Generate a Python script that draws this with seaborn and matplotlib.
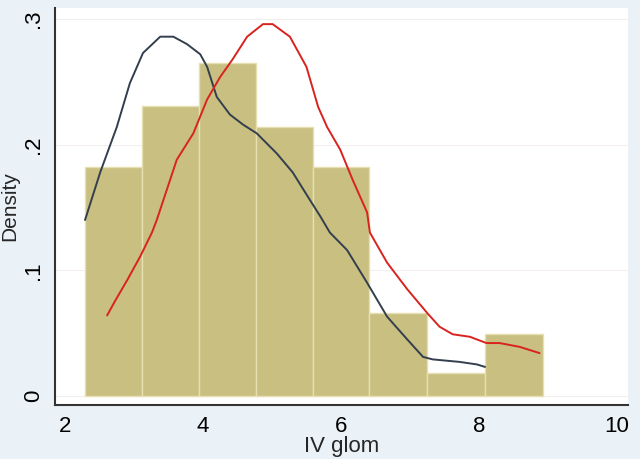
import matplotlib
matplotlib.use("Agg")
import matplotlib.pyplot as plt
import numpy as np
import pandas as pd
import seaborn as sns

# histogram bins (IV glom) and densities
bin_edges = [2.29, 3.12, 3.94, 4.77, 5.59, 6.41, 7.25, 8.09, 8.93]
bar_density = [0.182, 0.231, 0.265, 0.214, 0.182, 0.066, 0.018, 0.049]

# dark density curve
dark_x = [2.29, 2.51, 2.75, 2.94, 3.13, 3.38, 3.57, 3.77, 3.96, 4.06, 4.20, 4.39, 4.58, 4.78,
          5.07, 5.30, 5.55, 5.70, 5.84, 6.09, 6.38, 6.67, 6.96, 7.19, 7.33, 7.72, 7.97, 8.09]
dark_y = [0.140, 0.178, 0.214, 0.249, 0.273, 0.286, 0.286, 0.280, 0.272, 0.262, 0.238, 0.224, 0.216, 0.209,
          0.193, 0.178, 0.156, 0.143, 0.130, 0.116, 0.090, 0.063, 0.045, 0.031, 0.029, 0.027, 0.025, 0.023]

# red density curve
red_x = [2.61, 2.72, 2.90, 3.09, 3.26, 3.33, 3.62, 3.86, 4.06, 4.25, 4.43, 4.64, 4.87, 5.01, 5.26,
         5.50, 5.67, 5.80, 5.99, 6.17, 6.38, 6.42, 6.67, 6.96, 7.25, 7.43, 7.62, 7.87, 8.11, 8.30, 8.59, 8.88]
red_y = [0.064, 0.075, 0.092, 0.111, 0.130, 0.140, 0.188, 0.209, 0.236, 0.254, 0.268, 0.286, 0.296, 0.296, 0.286,
         0.262, 0.230, 0.214, 0.196, 0.172, 0.146, 0.130, 0.106, 0.085, 0.066, 0.055, 0.049, 0.047, 0.042, 0.042, 0.039, 0.034]

sns.set_style("white")
plt.rcParams['font.family'] = ['Liberation Sans', 'DejaVu Sans']

fig = plt.figure(figsize=(6.4, 4.59), dpi=100, facecolor="#eaf2f8")
ax = fig.add_axes([0.086, 0.118, 0.895, 0.865])
ax.set_facecolor("white")

centers = [(a + b) / 2 for a, b in zip(bin_edges[:-1], bin_edges[1:])]
hist = pd.DataFrame({"x": centers, "w": bar_density})
sns.histplot(data=hist, x="x", weights="w", bins=bin_edges, stat="count",
             color="#c8bf80", edgecolor="#e6dfb0", linewidth=1.0, alpha=1, ax=ax)

sns.lineplot(x=dark_x, y=dark_y, color="#333f4e", linewidth=1.4, ax=ax)
sns.lineplot(x=red_x, y=red_y, color="#d8231e", linewidth=1.4, ax=ax)

for yv in [0, 0.1, 0.2, 0.3]:
    ax.axhline(yv, color="#f4eeee", linewidth=0.8, zorder=0)

ax.set_xlim(1.855, 10.16)
ax.set_ylim(-0.0072, 0.309)
ax.set_xticks([2, 4, 6, 8, 10])
ax.set_yticks([0, 0.1, 0.2, 0.3])
ax.set_yticklabels(["0", ".1", ".2", ".3"], rotation=90, va="center")
ax.tick_params(axis="both", direction="out", length=5, width=1.3, color="#333333",
               labelsize=16, labelcolor="black", pad=3)
ax.set_xlabel("IV glom", fontsize=16, labelpad=-1)
ax.set_ylabel("Density", fontsize=15, labelpad=0)
ax.yaxis.set_label_coords(-0.062, 0.5)

for side in ["top", "right"]:
    ax.spines[side].set_visible(False)
for side in ["left", "bottom"]:
    ax.spines[side].set_color("#333333")
    ax.spines[side].set_linewidth(1.5)

fig.savefig("out.png", dpi=100, facecolor=fig.get_facecolor())
